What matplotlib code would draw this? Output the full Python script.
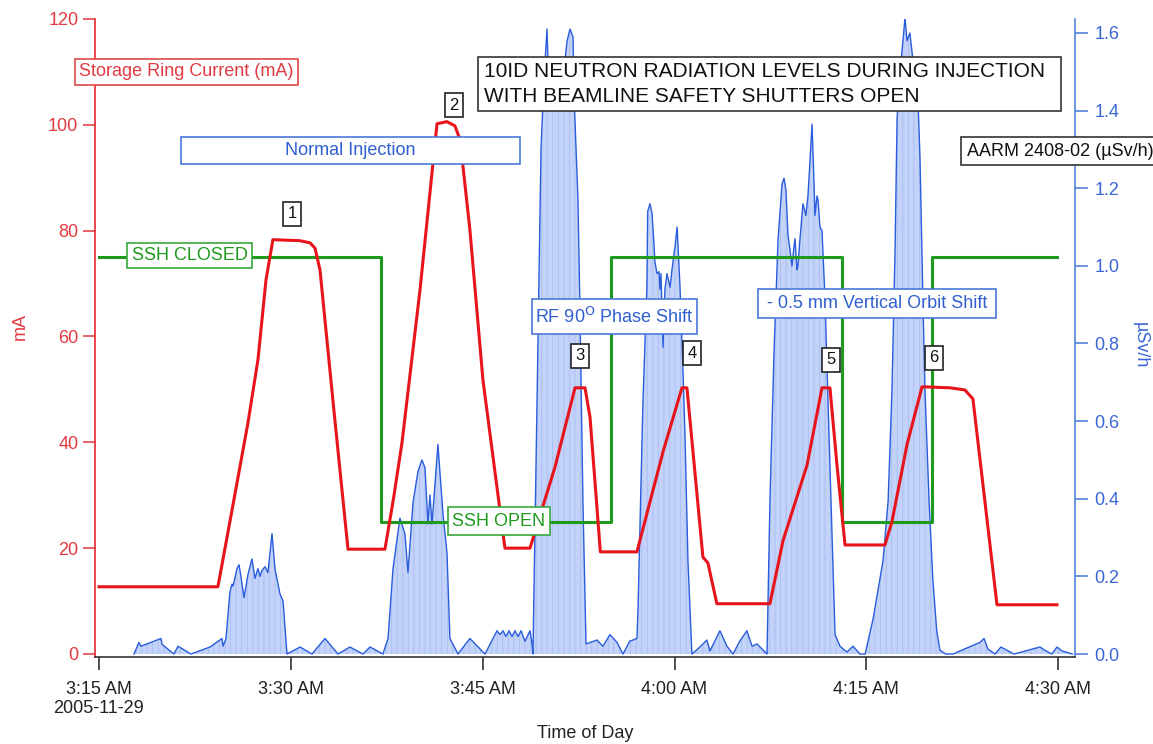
import numpy as np
import matplotlib.pyplot as plt
from matplotlib.patches import Rectangle

plt.rcParams['font.family'] = ['Liberation Sans', 'DejaVu Sans']
plt.rcParams['hatch.linewidth'] = 0.6

# minutes after 3:15 AM, 2005-11-29
tick_min = [0, 15, 30, 45, 60, 75]
tick_labels = ['3:15 AM\n2005-11-29', '3:30 AM', '3:45 AM', '4:00 AM', '4:15 AM', '4:30 AM']

# storage ring current (mA)
ring_t = [0, 9.3, 10.48, 11.65, 12.43, 13.06, 13.6, 15.72, 16.5, 16.89, 17.28, 18.37, 19.47,
          22.36, 23.05, 23.69, 25.1, 26.43, 27.2, 27.83, 28.23, 29.0, 30.02, 31.74,
          33.7, 35.65, 37.22, 38.0, 38.39, 39.2, 42.06, 44.1, 45.58, 45.97, 47.22, 47.61, 48.31,
          52.46, 53.48, 55.36, 56.53, 57.15, 57.7, 58.33, 61.45, 62.0, 63.17, 64.35, 66.54, 67.7,
          68.33, 70.21, 74.9]
ring_mA = [12.7, 12.7, 28.2, 43.7, 55.6, 70.7, 78.3, 78.1, 77.7, 76.7, 72.6, 46, 19.8,
           19.8, 29.7, 39.9, 68.8, 100.2, 100.6, 99.8, 97.2, 80.2, 51.8, 20.0,
           20.0, 35.3, 50.3, 50.3, 44.8, 19.3, 19.3, 38.2, 50.3, 50.3, 18.3, 17.2, 9.5,
           9.5, 21.4, 35.7, 50.3, 50.3, 35.7, 20.6, 20.6, 25, 39.5, 50.5, 50.3, 49.9,
           48.2, 9.3, 9.3]

# shutter state drawn on the mA scale (75 = closed, 25 = open)
ssh_t = [0, 22.05, 40.0, 58.1, 65.1, 74.9]
ssh_level = [75, 25, 75, 25, 75, 75]

# AARM 2408-02 neutron dose rate (uSv/h)
rad_t = [2.74, 3.13, 3.28, 4.85, 4.93, 5.86, 6.18, 7.19, 8.68, 9.62, 9.7, 9.93,
         10.24, 10.4, 10.48, 10.79, 10.95, 11.1, 11.34, 11.65, 11.96, 12.2, 12.43, 12.6, 12.74,
         12.98, 13.21, 13.53, 13.76, 14.15, 14.39, 14.7, 15.72, 16.65, 17.67, 18.69, 19.62,
         20.64, 21.19, 22.2, 22.6, 22.99, 23.53, 23.92, 24.16, 24.55, 24.94, 25.25, 25.49,
         25.72, 25.88, 26.04, 26.5, 26.9, 27.21, 27.44, 28.07, 29.0, 30.18, 31.12, 31.35,
         31.6, 31.82, 32.06, 32.29, 32.53, 32.76, 33.0, 33.31, 33.7, 33.86,
         33.93, 34.25, 34.56, 34.79, 35.03, 35.18, 35.65, 36.2, 36.6, 36.83, 37.06, 37.2,
         37.45, 37.6, 37.84, 38.08, 38.94, 39.4, 39.95, 40.5, 40.97, 41.5, 42.06,
         42.14, 42.53, 42.84, 42.9, 43.08, 43.24, 43.31, 43.47, 43.63, 43.79, 43.86, 43.94,
         44.1, 44.25, 44.41, 44.65, 44.8, 45.04, 45.2, 45.43, 45.66, 45.82, 46.05, 46.36,
         46.98, 47.53, 47.77, 48.55, 49.1, 49.57, 50.1, 50.66, 51.06, 51.45, 52.23,
         52.46, 52.78, 53.09, 53.4, 53.56, 53.71, 53.87, 54.03, 54.18, 54.34, 54.42, 54.57,
         54.65, 54.8, 55.04, 55.27, 55.43, 55.59, 55.75, 55.9, 55.98, 56.14, 56.22, 56.37,
         56.53, 56.76, 57.15, 57.55, 57.94, 58.48, 58.95, 59.5, 59.9,
         60.52, 61.3, 61.7, 62.0, 62.24, 62.4, 62.63, 62.86, 63.02, 63.17, 63.4, 63.64,
         63.88, 64.03, 64.19, 64.42, 64.58, 64.9, 65.2, 65.5, 65.75, 66.2,
         66.77, 68.88, 69.2, 69.5, 70.05, 70.52, 71.54, 73.57, 74.04, 74.5, 74.9, 75.3, 76.1]
rad_usv = [0.0, 0.03, 0.02, 0.04, 0.025, 0.0, 0.02, 0.0, 0.018, 0.04, 0.02, 0.04,
           0.16, 0.18, 0.175, 0.22, 0.23, 0.2, 0.145, 0.205, 0.245, 0.195, 0.22, 0.2, 0.215,
           0.225, 0.21, 0.31, 0.22, 0.155, 0.137, 0.0, 0.018, 0.0, 0.04, 0.0, 0.018,
           0.0, 0.018, 0.0, 0.04, 0.22, 0.35, 0.31, 0.21, 0.39, 0.47, 0.5, 0.48,
           0.335, 0.41, 0.335, 0.54, 0.36, 0.26, 0.04, 0.0, 0.04, 0.0, 0.06, 0.05,
           0.06, 0.045, 0.06, 0.045, 0.06, 0.045, 0.06, 0.033, 0.06, 0.026,
           0.0, 0.65, 1.3, 1.48, 1.61, 1.45, 1.47, 1.46, 1.58, 1.61, 1.59, 1.39,
           1.17, 0.9, 0.39, 0.026, 0.036, 0.02, 0.05, 0.03, 0.0, 0.033, 0.04,
           0.11, 0.65, 0.945, 1.14, 1.16, 1.135, 1.1, 1.01, 0.98, 0.985, 0.94, 0.98,
           0.79, 0.94, 0.98, 0.945, 0.99, 1.05, 1.1, 0.945, 0.73, 0.56, 0.24, 0.0,
           0.018, 0.036, 0.008, 0.06, 0.02, 0.0, 0.033, 0.06, 0.02, 0.026, 0.0,
           0.395, 0.78, 1.065, 1.21, 1.226, 1.195, 1.08, 1.04, 1.0, 1.05, 1.07, 0.99,
           1.0, 1.066, 1.16, 1.13, 1.18, 1.27, 1.365, 1.22, 1.13, 1.18, 1.17, 1.1,
           1.09, 0.92, 0.485, 0.05, 0.02, 0.005, 0.02, 0.0, 0.0,
           0.09, 0.24, 0.395, 0.68, 1.04, 1.38, 1.5, 1.58, 1.64, 1.58, 1.6, 1.53,
           1.48, 1.43, 1.28, 0.91, 0.68, 0.395, 0.19, 0.06, 0.01, 0.0,
           0.0, 0.03, 0.04, 0.013, 0.0, 0.018, 0.0, 0.018, 0.008, 0.0, 0.018, 0.008, 0.0]

RED = '#e8141c'
RED_TXT = '#e03a40'
BLUE = '#2a5ddc'
BLUE_AX = '#4a78d8'
GREEN = '#1f9a1f'
W, H = 1153, 744

fig = plt.figure(figsize=(W / 100, H / 100), dpi=100)
ax2 = fig.add_axes([95 / W, 1 - 657 / H, 980 / W, 638 / H])
ax = ax2.twinx()
ax.set_zorder(ax2.get_zorder() + 1)
ax.patch.set_visible(False)
ax.xaxis.set_visible(True)

# radiation, filled to zero (fine vertical hatching like the original)
ax2.fill_between(rad_t, rad_usv, 0, facecolor='#c2d2f8', edgecolor='#a9bef2',
                 hatch='|||', linewidth=0, zorder=1)
ax2.plot(rad_t, rad_usv, color=BLUE, lw=1.0, zorder=2)

ax.plot(ssh_t, ssh_level, color=GREEN, lw=2.2, drawstyle='steps-post')
ax.plot(ring_t, ring_mA, color=RED, lw=2.2)

ax.set_xlim(-0.31, 76.31)
ax.set_ylim(-0.57, 120)
ax2.set_ylim(-0.0077, 1.636)

# left (red) axis lives on ax, right (blue) on ax2 -> swap sides
ax.yaxis.set_label_position('left')
ax.yaxis.tick_left()
ax2.yaxis.set_label_position('right')
ax2.yaxis.tick_right()

ax.set_yticks([0, 20, 40, 60, 80, 100, 120])
ax2.set_yticks(np.arange(0, 1.61, 0.2))
ax2.set_yticklabels(['%.1f' % v for v in np.arange(0, 1.61, 0.2)])
ax.set_xticks(tick_min)
ax.set_xticklabels(tick_labels)
ax2.tick_params(axis='x', bottom=False, labelbottom=False)

for s in ['top', 'right']:
    ax.spines[s].set_visible(False)
for s in ['top', 'left', 'bottom']:
    ax2.spines[s].set_visible(False)
ax.spines['left'].set_color(RED)
ax.spines['left'].set_linewidth(1.1)
ax.spines['bottom'].set_color('#222222')
ax.spines['bottom'].set_linewidth(1.1)
ax2.spines['right'].set_color(BLUE_AX)
ax2.spines['right'].set_linewidth(1.1)

ax.tick_params(axis='y', colors=RED_TXT, labelsize=13, length=9, width=1.1, pad=3)
ax.tick_params(axis='x', colors='#222222', labelsize=13, length=9, width=1.1, pad=8,
               bottom=True, labelbottom=True)
ax2.tick_params(axis='y', colors=BLUE_AX, labelsize=13, length=9, width=1.1, pad=5)
for lab in ax2.get_yticklabels():
    lab.set_color('#3a66d4')

fig.text(20 / W, 1 - 327 / H, 'mA', color=RED_TXT, fontsize=13, rotation=90, ha='center', va='center')
fig.text(1140 / W, 1 - 345 / H, 'µSv/h', color='#3a66d4', fontsize=13, rotation=270,
         ha='center', va='center')
fig.text(585 / W, 1 - 733 / H, 'Time of Day', color='#222222', fontsize=13, ha='center', va='center')


def box(x0, y0, x1, y1, text, color, tcolor, size=13, ha='center', ls=1.2):
    fig.add_artist(Rectangle((x0 / W, 1 - y1 / H), (x1 - x0) / W, (y1 - y0) / H,
                             transform=fig.transFigure, facecolor='white', edgecolor=color,
                             lw=1.2, zorder=5))
    tx = (x0 + x1) / 2 if ha == 'center' else x0 + 6
    fig.text(tx / W, 1 - (y0 + y1) / 2 / H, text, color=tcolor, fontsize=size,
             ha=ha, va='center', zorder=6, linespacing=ls)


box(75, 59, 298, 85, 'Storage Ring Current (mA)', '#e04848', RED_TXT)
box(181, 137, 520, 164, 'Normal Injection', BLUE_AX, '#2f5fd0')
box(478, 57, 1061, 111, '10ID NEUTRON RADIATION LEVELS DURING INJECTION\nWITH BEAMLINE SAFETY SHUTTERS OPEN',
    '#333333', '#111111', size=15, ha='left', ls=1.4)
box(961, 137, 1165, 165, 'AARM 2408-02 (µSv/h)', '#333333', '#111111', ha='left')
box(127, 243, 252, 268, 'SSH CLOSED', '#3aa83a', GREEN)
box(448, 507, 550, 535, 'SSH OPEN', '#3aa83a', GREEN)
box(532, 299, 697, 334, r'RF 90$^{\mathrm{O}}$ Phase Shift', BLUE_AX, '#2f5fd0')
box(758, 289, 996, 318, '- 0.5 mm Vertical Orbit Shift', BLUE_AX, '#2f5fd0')

for lbl, (bx, by) in zip(['1', '2', '3', '4', '5', '6'],
                         [(292, 214), (454, 105), (580, 356), (692, 353), (831, 360), (934, 358)]):
    box(bx - 9, by - 12, bx + 9, by + 12, lbl, '#222222', '#111111', size=12)

fig.savefig('out.png', dpi=100)
